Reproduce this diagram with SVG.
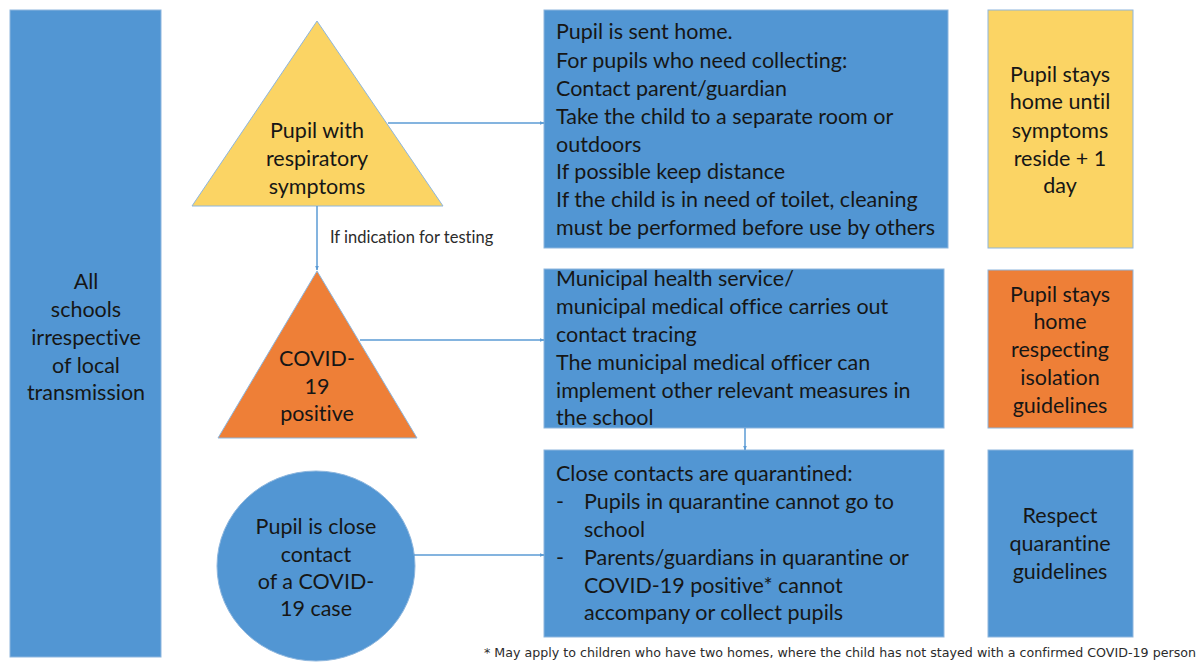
<svg xmlns="http://www.w3.org/2000/svg" width="1199" height="662" viewBox="0 0 1199 662">
  <defs>
    <marker id="arrow" viewBox="0 0 10 10" refX="9" refY="5" markerWidth="5" markerHeight="5" orient="auto" markerUnits="userSpaceOnUse">
      <path d="M0,1 L10,5 L0,9 z" fill="#5B9BD5"/>
    </marker>
    <style>
      .blue { fill: #5296D3; stroke: #8DB6DE; stroke-width: 1; }
      .yellow { fill: #FBD464; stroke: #8DB6DE; stroke-width: 1; }
      .orange { fill: #EE7F37; stroke: #8DB6DE; stroke-width: 1; }
      text { font-variant-ligatures: none; }
      .t { font-family: Lato, "Liberation Sans", sans-serif; font-size: 21.5px; fill: #161616; }
      .c { text-anchor: middle; }
      .lbl { font-family: Lato, "Liberation Sans", sans-serif; font-size: 16.5px; fill: #2b2b2b; }
      .note { font-family: "DejaVu Sans", "Liberation Sans", sans-serif; font-size: 11.5px; fill: #2b2b2b; }
      .conn { stroke: #5B9BD5; stroke-width: 1.5; fill: none; marker-end: url(#arrow); }
    </style>
  </defs>
  <rect width="1199" height="662" fill="#ffffff"/>

  <!-- scope column -->
  <g id="scope">
    <rect class="blue" x="10" y="10" width="151" height="647"/>
    <text class="t c" x="86" y="289">All</text>
    <text class="t c" x="86" y="317">schools</text>
    <text class="t c" x="86" y="345">irrespective</text>
    <text class="t c" x="86" y="373">of local</text>
    <text class="t c" x="86" y="400">transmission</text>
  </g>

  <!-- trigger shapes -->
  <g id="respiratory">
    <polygon class="yellow" points="317,21 192,206 443,206"/>
    <text class="t c" x="317" y="138">Pupil with</text>
    <text class="t c" x="317" y="166">respiratory</text>
    <text class="t c" x="317" y="194">symptoms</text>
  </g>

  <g id="positive">
    <polygon class="orange" points="317,271 218,438 417,438"/>
    <text class="t c" x="317" y="366">COVID-</text>
    <text class="t c" x="317" y="394">19</text>
    <text class="t c" x="317" y="421">positive</text>
  </g>

  <g id="contact">
    <ellipse class="blue" cx="316" cy="566" rx="99" ry="95"/>
    <text class="t c" x="316" y="534">Pupil is close</text>
    <text class="t c" x="316" y="562">contact</text>
    <text class="t c" x="316" y="589">of a COVID-</text>
    <text class="t c" x="316" y="616">19 case</text>
  </g>

  <!-- action boxes -->
  <g id="send-home">
    <rect class="blue" x="544" y="10" width="404" height="238"/>
    <text class="t" x="556" y="39">Pupil is sent home.</text>
    <text class="t" x="556" y="68">For pupils who need collecting:</text>
    <text class="t" x="556" y="96">Contact parent/guardian</text>
    <text class="t" x="556" y="124">Take the child to a separate room or</text>
    <text class="t" x="556" y="152">outdoors</text>
    <text class="t" x="556" y="179">If possible keep distance</text>
    <text class="t" x="556" y="207">If the child is in need of toilet, cleaning</text>
    <text class="t" x="556" y="235">must be performed before use by others</text>
  </g>

  <g id="tracing">
    <rect class="blue" x="544" y="269" width="400" height="159"/>
    <text class="t" x="556" y="286">Municipal health service/</text>
    <text class="t" x="556" y="314">municipal medical office carries out</text>
    <text class="t" x="556" y="342">contact tracing</text>
    <text class="t" x="556" y="370">The municipal medical officer can</text>
    <text class="t" x="556" y="398">implement other relevant measures in</text>
    <text class="t" x="556" y="425">the school</text>
  </g>

  <g id="quarantine">
    <rect class="blue" x="544" y="450" width="400" height="187"/>
    <text class="t" x="556" y="481">Close contacts are quarantined:</text>
    <text class="t" x="556" y="509">-</text>
    <text class="t" x="584" y="509">Pupils in quarantine cannot go to</text>
    <text class="t" x="584" y="537">school</text>
    <text class="t" x="556" y="565">-</text>
    <text class="t" x="584" y="565">Parents/guardians in quarantine or</text>
    <text class="t" x="584" y="593">COVID-19 positive* cannot</text>
    <text class="t" x="584" y="620">accompany or collect pupils</text>
  </g>

  <!-- outcome boxes -->
  <g id="stay-home-symptoms">
    <rect class="yellow" x="988" y="10" width="145" height="238"/>
    <text class="t c" x="1060" y="82">Pupil stays</text>
    <text class="t c" x="1060" y="109">home until</text>
    <text class="t c" x="1060" y="138">symptoms</text>
    <text class="t c" x="1060" y="166">reside + 1</text>
    <text class="t c" x="1060" y="193">day</text>
  </g>

  <g id="stay-home-isolation">
    <rect class="orange" x="988" y="270" width="145" height="158"/>
    <text class="t c" x="1060" y="302">Pupil stays</text>
    <text class="t c" x="1060" y="329">home</text>
    <text class="t c" x="1060" y="357">respecting</text>
    <text class="t c" x="1060" y="385">isolation</text>
    <text class="t c" x="1060" y="413">guidelines</text>
  </g>

  <g id="respect-quarantine">
    <rect class="blue" x="988" y="450" width="145" height="187"/>
    <text class="t c" x="1060" y="523">Respect</text>
    <text class="t c" x="1060" y="551">quarantine</text>
    <text class="t c" x="1060" y="579">guidelines</text>
  </g>

  <!-- connectors -->
  <g id="connectors">
    <line class="conn" x1="388" y1="123" x2="544" y2="123"/>
    <line class="conn" x1="317" y1="206" x2="317" y2="270"/>
    <line class="conn" x1="360" y1="340" x2="544" y2="340"/>
    <line class="conn" x1="745" y1="428" x2="745" y2="450"/>
    <line class="conn" x1="414" y1="555" x2="544" y2="555"/>
    <text class="lbl" x="330" y="243">If indication for testing</text>
  </g>

  <!-- footnote -->
  <text class="note" x="484" y="657" textLength="712" lengthAdjust="spacingAndGlyphs">* May apply to children who have two homes, where the child has not stayed with a confirmed COVID-19 person</text>
</svg>
